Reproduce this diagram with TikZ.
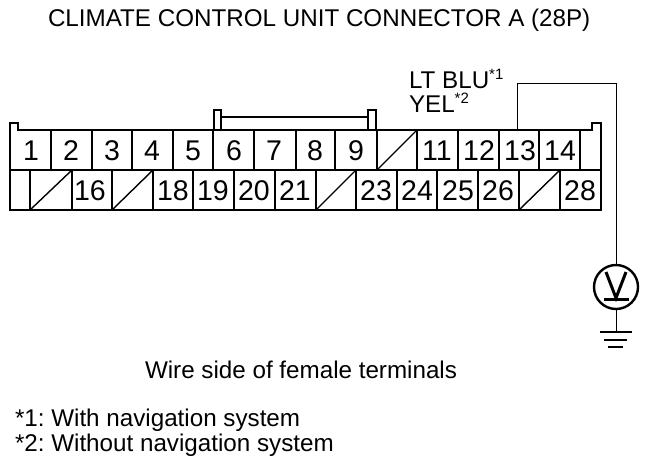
\documentclass[tikz,border=0pt]{standalone}
\usepackage{fontspec}
\setmainfont{Liberation Sans}
\usetikzlibrary{positioning}
\newcommand{\wiremark}[1]{\raisebox{9pt}{\fontsize{15}{16}\selectfont*#1}}

\begin{document}
\frenchspacing
\begin{tikzpicture}
[x=1pt,y=-1pt,
every node/.style={inner sep=0pt,outer sep=0pt},
pin/.style={minimum width=40pt,minimum height=40pt,text height=20pt,text depth=0pt,font=\fontsize{28.5}{32}\selectfont},
caption/.style={anchor=base west,font=\fontsize{24.2}{26}\selectfont},
housing/.style={draw,line width=2.8pt},
wire/.style={draw,line width=1pt},
blank/.style={draw,line width=1.4pt}]
\useasboundingbox (0,0) rectangle (672,464);
% top row
\node[pin] (p1) at (31,150) {1};
\node[pin] (p2) at (71,150) {2};
\node[pin] (p3) at (112,150) {3};
\node[pin] (p4) at (152,150) {4};
\node[pin] (p5) at (193,150) {5};
\node[pin] (p6) at (234,150) {6};
\node[pin] (p7) at (274,150) {7};
\node[pin] (p8) at (315,150) {8};
\node[pin] (p9) at (356,150) {9};
\node[pin] (p11) at (437,150) {11};
\node[pin] (p12) at (479,150) {12};
\node[pin] (p13) at (520,150) {13};
\node[pin] (p14) at (560,150) {14};
% bottom row
\node[pin] (p16) at (90,190) {16};
\node[pin] (p18) at (173,190) {18};
\node[pin] (p19) at (213,190) {19};
\node[pin] (p20) at (254,190) {20};
\node[pin] (p21) at (295,190) {21};
\node[pin] (p23) at (376,190) {23};
\node[pin] (p24) at (417,190) {24};
\node[pin] (p25) at (458,190) {25};
\node[pin] (p26) at (498,190) {26};
\node[pin] (p28) at (580,190) {28};
% housing
\draw[housing] (10,210) -- (10,123) -- (18,123) -- (18,130) -- (592,130) -- (592,123) -- (601,123) -- (601,210) -- cycle;
\draw[housing] (10,170) -- (601,170);
\draw[housing] (214,130) -- (214,110) -- (221,110) -- (221,130);
\draw[housing] (368,130) -- (368,110) -- (376,110) -- (376,130);
\draw[housing] (221,117) -- (368,117);
\draw[housing] (51,130) -- (51,170) (92,130) -- (92,170) (132,130) -- (132,170) (173,130) -- (173,170)
  (213,130) -- (213,170) (254,130) -- (254,170) (296,130) -- (296,170) (335,130) -- (335,170)
  (377,130) -- (377,170) (417,130) -- (417,170) (458,130) -- (458,170) (499,130) -- (499,170)
  (539,130) -- (539,170) (580,130) -- (580,170);
\draw[housing] (30,170) -- (30,210) (72,170) -- (72,210) (112,170) -- (112,210) (153,170) -- (153,210)
  (193,170) -- (193,210) (234,170) -- (234,210) (275,170) -- (275,210) (316,170) -- (316,210)
  (356,170) -- (356,210) (397,170) -- (397,210) (437,170) -- (437,210) (478,170) -- (478,210)
  (519,170) -- (519,210) (560,170) -- (560,210);
% empty cavities
\draw[blank] (377,170) -- (417,130);
\draw[blank] (30,210) -- (72,170);
\draw[blank] (112,210) -- (153,170);
\draw[blank] (316,210) -- (356,170);
\draw[blank] (519,210) -- (560,170);
% meter and ground
\node[circle,draw,line width=2.4pt,minimum size=44pt] (volt) at (616,287) {};
\coordinate (bend) at (616,83);
\coordinate (gnd) at (616,332);
\draw[wire] ([xshift=-3pt]p13.north) |- (bend) -- (volt.north);
\draw[wire] (volt.south) -- (gnd);
\draw[line width=3pt] (606,272) -- (616,298) -- (626,272);
\draw[line width=3pt] (604,299) -- (629,299);
\draw[line width=2.6pt] (600,332) -- (632,332);
\draw[line width=1.8pt] (604,340) -- (627,340);
\draw[line width=1.5pt] (608,347) -- (623,347);
% texts
\node[caption] (title) at (48,26) {CLIMATE CONTROL UNIT CONNECTOR A (28P)};
\node[caption] (blu) at (409,88) {LT BLU\wiremark{1}};
\node[caption] (yel) at (409,112) {YEL\wiremark{2}};
\node[caption] (side) at (145,378) {Wire side of female terminals};
\node[caption] (note1) at (15,426) {*1: With navigation system};
\node[caption] (note2) at (15,451) {*2: Without navigation system};
\end{tikzpicture}
\end{document}
